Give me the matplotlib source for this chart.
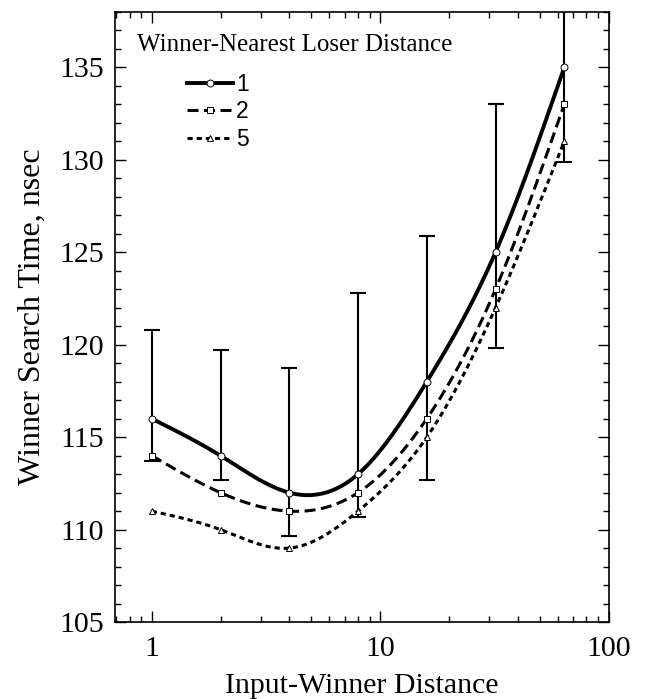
import numpy as np
import matplotlib
matplotlib.use('Agg')
import matplotlib.pyplot as plt
from matplotlib.ticker import LogLocator, MultipleLocator, NullFormatter, FixedLocator

# data
dist = [1, 2, 4, 8, 16, 32, 64]
t_1 = [116, 114, 112, 113, 118, 125, 135]
t_2 = [114, 112, 111, 112, 116, 123, 133]
t_5 = [111, 110, 109, 111, 115, 122, 131]
err_lo = [113.7, 112.7, 109.65, 110.7, 112.7, 119.8, 129.9]
err_hi = [120.8, 119.7, 118.75, 122.8, 125.9, 133.0, 140.0]
labels = ['1', '2', '5']


def smooth(x, y, n=200):
    # natural cubic spline in log10(x)
    u = np.log10(np.asarray(x, float))
    y = np.asarray(y, float)
    k = len(u)
    h = np.diff(u)
    A = np.zeros((k, k))
    b = np.zeros(k)
    A[0, 0] = A[-1, -1] = 1
    for i in range(1, k - 1):
        A[i, i - 1] = h[i - 1]
        A[i, i] = 2 * (h[i - 1] + h[i])
        A[i, i + 1] = h[i]
        b[i] = 6 * ((y[i + 1] - y[i]) / h[i] - (y[i] - y[i - 1]) / h[i - 1])
    m = np.linalg.solve(A, b)
    uu = np.linspace(u[0], u[-1], n)
    idx = np.clip(np.searchsorted(u, uu) - 1, 0, k - 2)
    t = uu - u[idx]
    hi = h[idx]
    a1 = (y[idx + 1] - y[idx]) / hi - hi * (2 * m[idx] + m[idx + 1]) / 6
    yy = y[idx] + a1 * t + m[idx] / 2 * t ** 2 + (m[idx + 1] - m[idx]) / (6 * hi) * t ** 3
    return 10 ** uu, yy


serif = 'Liberation Serif'
sans = 'Liberation Sans'

fig = plt.figure(figsize=(6.46, 6.99), dpi=100)
ax = fig.add_axes([0.178, 0.110, 0.764, 0.873])

styles = [
    dict(ls='-', lw=2.8, marker='o'),
    dict(ls=(0, (3.6, 1.8)), lw=2.2, marker='s'),
    dict(ls=(0, (1.7, 1.3)), lw=2.2, marker='^'),
]

handles = []
for ys, lab, st in zip([t_1, t_2, t_5], labels, styles):
    xs, yy = smooth(dist, ys)
    ax.plot(xs, yy, color='black', ls=st['ls'], lw=st['lw'], zorder=3)
    ax.plot(dist, ys, ls='none', marker=st['marker'], ms=5, mfc='white',
            mec='black', mew=0.7, zorder=4)
    h, = ax.plot([], [], color='black', ls=st['ls'], lw=st['lw'],
                 marker=st['marker'], ms=5, mfc='white', mec='black', mew=0.7)
    handles.append(h)

yerr = [np.array(t_1) - np.array(err_lo), np.array(err_hi) - np.array(t_1)]
ax.errorbar(dist, t_1, yerr=yerr, fmt='none', ecolor='black',
            elinewidth=1.5, capsize=6, capthick=1.5, zorder=2)

ax.set_xscale('log')
ax.set_xlim(0.69, 100)
ax.set_ylim(105, 138)
ax.xaxis.set_major_locator(FixedLocator([1, 10, 100]))
ax.xaxis.set_minor_locator(LogLocator(base=10, subs=np.arange(2, 10)))
ax.xaxis.set_minor_formatter(NullFormatter())
ax.set_xticklabels(['1', '10', '100'])
ax.yaxis.set_major_locator(MultipleLocator(5))
ax.yaxis.set_minor_locator(MultipleLocator(1))
ax.tick_params(which='both', direction='in', top=True, right=True,
               labelsize=21.5, width=1)
ax.tick_params(axis='x', pad=10)
ax.tick_params(axis='y', pad=8)
ax.tick_params(which='major', length=8)
ax.tick_params(which='minor', length=4)
for lab in ax.get_xticklabels() + ax.get_yticklabels():
    lab.set_fontfamily(serif)
for sp in ax.spines.values():
    sp.set_linewidth(1.2)

ax.set_xlabel('Input-Winner Distance', fontsize=21.5, fontfamily=serif, labelpad=8)
ax.set_ylabel('Winner Search Time, nsec', fontsize=23, fontfamily=serif, labelpad=9)

fig.text(0.212, 0.936, 'Winner-Nearest Loser Distance', fontsize=18,
         fontfamily=serif, va='center', ha='left')
fig.legend(handles, labels, loc='upper left', bbox_to_anchor=(0.289, 0.896),
           bbox_transform=fig.transFigure, frameon=False, numpoints=1,
           handlelength=2.0, handletextpad=0.15, labelspacing=0.2,
           borderpad=0, borderaxespad=0,
           prop={'family': sans, 'size': 16.5})

fig.savefig('out.png', dpi=100)
